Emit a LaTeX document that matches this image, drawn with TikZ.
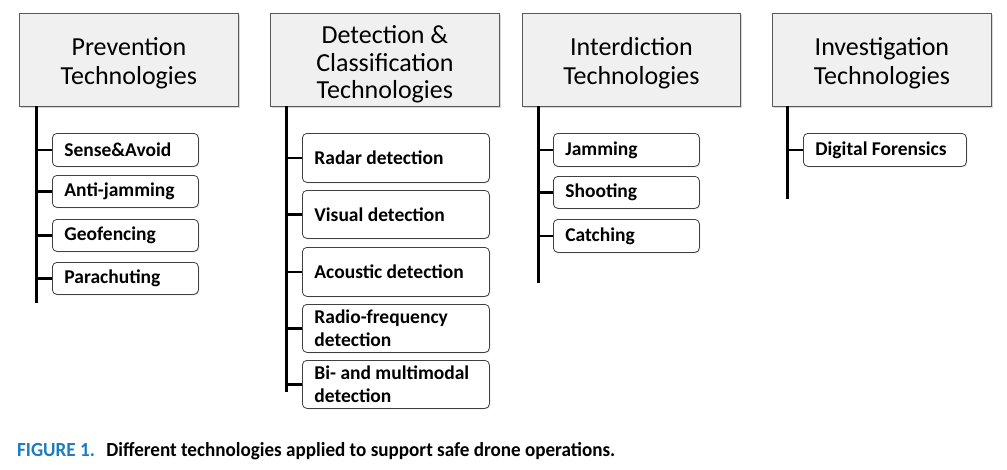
\documentclass[tikz,border=0pt]{standalone}
\usepackage{fontspec}
\setmainfont{Carlito}
\usetikzlibrary{shadows}
\definecolor{hdrfill}{HTML}{F0F0F0}
\definecolor{capblue}{HTML}{1C7CC0}
\newcommand{\hdrtext}[2]{\raisebox{#1}[\height][\depth]{\begin{tabular}{@{}c@{}}#2\end{tabular}}}
\begin{document}
\begin{tikzpicture}[x=1pt,y=-1pt,
  header/.style={draw=black!65, line width=0.8pt, fill=hdrfill,
    drop shadow={shadow xshift=1.5pt, shadow yshift=-1.5pt, opacity=0.3},
    anchor=north west, inner sep=0pt, align=flush center,
    execute at begin node={\spaceskip=0pt\xspaceskip=0pt},
    font=\fontsize{26}{29}\selectfont},
  item/.style={draw=black!75, line width=0.8pt, fill=white, rounded corners=4.5pt,
    drop shadow={shadow xshift=1pt, shadow yshift=-1pt, opacity=0.2},
    anchor=north west, inner xsep=12pt, inner ysep=0pt, align=flush left,
    execute at begin node={\spaceskip=0pt\xspaceskip=0pt},
    font=\bfseries\fontsize{19.5}{23}\selectfont},
  trunk/.style={line width=3pt},
  tick/.style={line width=2.6pt}]
\useasboundingbox (0,0) rectangle (1007,469);

% --- Prevention ---
\node[header, minimum width=219pt, minimum height=93pt] (hp) at (19,13) {\hdrtext{-4pt}{Prevention\\[0pt]Technologies}};
\node[item, text width=122pt, minimum height=33pt] (p1) at (52,133) {Sense\&Avoid};
\node[item, text width=122pt, minimum height=32pt] (p2) at (52,175) {Anti-jamming};
\node[item, text width=122pt, minimum height=32pt] (p3) at (52,219) {Geofencing};
\node[item, text width=122pt, minimum height=32pt] (p4) at (52,262) {Parachuting};
\coordinate (pt) at (36,106);
\coordinate (pb) at (36,303);
\draw[trunk] (pt) -- (pb);
\foreach \n in {p1,p2,p3,p4} \draw[tick] (\n.west) -- (\n.west -| pt);

% --- Detection ---
\node[header, minimum width=229pt, minimum height=93pt] (hd) at (270,13) {\hdrtext{-5pt}{Detection \&\\[-1pt]Classification\\[-2pt]Technologies}};
\node[item, text width=163pt, minimum height=49pt] (d1) at (302,133) {Radar detection};
\node[item, text width=163pt, minimum height=48pt] (d2) at (302,190) {Visual detection};
\node[item, text width=163pt, minimum height=49pt] (d3) at (302,247) {Acoustic detection};
\node[item, text width=163pt, minimum height=48pt] (d4) at (302,304) {Radio-frequency\\detection};
\node[item, text width=163pt, minimum height=48pt] (d5) at (302,360) {Bi- and multimodal\\detection};
\coordinate (dt) at (286,106);
\coordinate (db) at (286,392);
\draw[trunk] (dt) -- (db);
\foreach \n in {d1,d2,d3,d4,d5} \draw[tick] (\n.west) -- (\n.west -| dt);

% --- Interdiction ---
\node[header, minimum width=218pt, minimum height=93pt] (hi) at (522,13) {\hdrtext{-4pt}{Interdiction\\[0pt]Technologies}};
\node[item, text width=122pt, minimum height=33pt] (i1) at (553,133) {Jamming};
\node[item, text width=122pt, minimum height=32pt] (i2) at (553,176) {Shooting};
\node[item, text width=122pt, minimum height=33pt] (i3) at (553,219) {Catching};
\coordinate (it) at (538,106);
\coordinate (ib) at (538,283);
\draw[trunk] (it) -- (ib);
\foreach \n in {i1,i2,i3} \draw[tick] (\n.west) -- (\n.west -| it);

% --- Investigation ---
\node[header, minimum width=219pt, minimum height=93pt] (hv) at (772,13) {\hdrtext{-4pt}{Investigation\\[0pt]Technologies}};
\node[item, text width=139pt, minimum height=33pt] (v1) at (803,133) {Digital Forensics};
\coordinate (vt) at (787,106);
\coordinate (vb) at (787,199);
\draw[trunk] (vt) -- (vb);
\draw[tick] (v1.west) -- (v1.west -| vt);

% --- Caption ---
\node[anchor=base west, inner sep=0pt, font=\bfseries\fontsize{20}{22}\selectfont] (cap) at (17,456)
  {\resizebox{598pt}{\height}{\textcolor{capblue}{FIGURE 1.}\hspace{0.6em}Different technologies applied to support safe drone operations.}};
\end{tikzpicture}
\end{document}
